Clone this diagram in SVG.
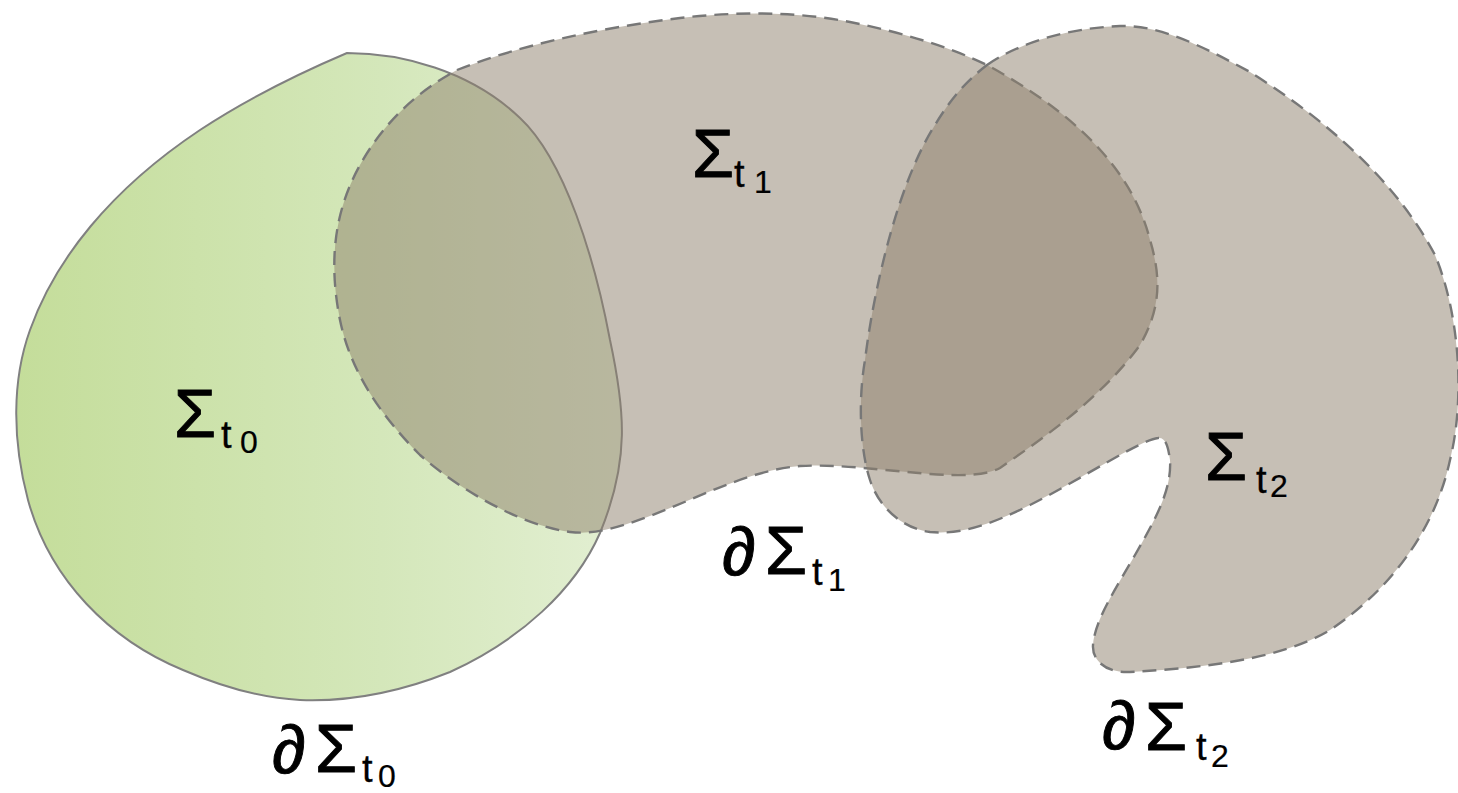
<svg xmlns="http://www.w3.org/2000/svg" width="1458" height="793" viewBox="0 0 1458 793">
<defs>
<linearGradient id="greenGrad" gradientUnits="userSpaceOnUse" x1="15" y1="0" x2="625" y2="0">
<stop offset="0" stop-color="#c4dd9a"/>
<stop offset="0.6" stop-color="#d4e7ba"/>
<stop offset="1" stop-color="#e3efd3"/>
</linearGradient>
</defs>
<style>
.green{fill:url(#greenGrad);stroke:#808080;stroke-width:2;}
.gray{fill:#8d7f6c;fill-opacity:0.5;stroke:#777777;stroke-width:2.4;stroke-dasharray:14 8;}
.big{font-family:"Liberation Sans",Arial,Helvetica,sans-serif;font-size:68px;fill:#000;stroke:#000;stroke-width:0.9;}
.sub{font-family:"Liberation Sans",Arial,Helvetica,sans-serif;font-size:38px;fill:#000;stroke:#000;stroke-width:0.3;}
.subsub{font-family:"Liberation Sans",Arial,Helvetica,sans-serif;font-size:32px;fill:#000;stroke:#000;stroke-width:0.2;}
</style>
<rect width="1458" height="793" fill="#ffffff"/>
<g id="region-t0">
<path class="green" d="M347,53 C400,53 470,70 520,118 C565,160 595,260 610,340 C625,410 630,460 600,533 C575,590 520,640 450,672 C400,692 350,702 300,700 C260,698 220,686 183,670 C110,640 50,580 28,500 C12,440 12,380 30,330 C55,260 110,190 200,130 C250,97 300,73 347,53 Z"/>
</g>
<g id="region-t1">
<path class="gray" d="M457,70 C520,45 600,28 680,18 C740,11 800,12 850,22 C900,32 950,47 987,65 C1060,105 1130,160 1150,240 C1162,280 1160,310 1140,345 C1100,400 1040,440 1000,468 C985,476 960,476 930,474 C880,470 840,464 800,466 C750,470 700,497 650,516 C620,527 595,535 570,532 C520,525 460,490 420,455 C380,415 350,370 340,320 C328,260 335,210 360,165 C385,120 420,90 457,70 Z"/>
</g>
<g id="region-t2">
<path class="gray" d="M987,65 C1020,42 1070,28 1120,26 C1160,25 1200,45 1250,72 C1310,110 1390,170 1435,255 C1460,315 1465,400 1450,460 C1435,530 1390,590 1330,630 C1280,660 1200,668 1130,672 C1105,673 1092,660 1093,645 C1095,620 1115,590 1135,555 C1155,520 1172,490 1170,460 C1168,445 1165,437 1158,438 C1140,440 1080,480 1030,505 C990,525 960,535 930,532 C900,528 878,505 870,480 C860,450 858,400 865,360 C875,280 900,180 935,125 C950,100 965,82 987,65 Z"/>
</g>
<g id="label-sigma-t0">
<text class="big" x="174" y="437">Σ</text><text class="sub" x="221" y="448">t</text><text class="subsub" x="240" y="453">0</text>
</g>
<g id="label-sigma-t1">
<text class="big" x="692" y="177">Σ</text><text class="sub" x="734" y="187">t</text><text class="subsub" x="754" y="193">1</text>
</g>
<g id="label-sigma-t2">
<text class="big" x="1205" y="480">Σ</text><text class="sub" x="1256" y="493">t</text><text class="subsub" x="1270" y="497">2</text>
</g>
<g id="label-boundary-t0">
<text class="big" x="272" y="773">∂</text><text class="big" x="315" y="772">Σ</text><text class="sub" x="362" y="782">t</text><text class="subsub" x="378" y="787">0</text>
</g>
<g id="label-boundary-t1">
<text class="big" x="722" y="575">∂</text><text class="big" x="765" y="574">Σ</text><text class="sub" x="812" y="585">t</text><text class="subsub" x="828" y="591">1</text>
</g>
<g id="label-boundary-t2">
<text class="big" x="1102" y="749">∂</text><text class="big" x="1145" y="750">Σ</text><text class="sub" x="1196" y="760">t</text><text class="subsub" x="1211" y="767">2</text>
</g>
</svg>
